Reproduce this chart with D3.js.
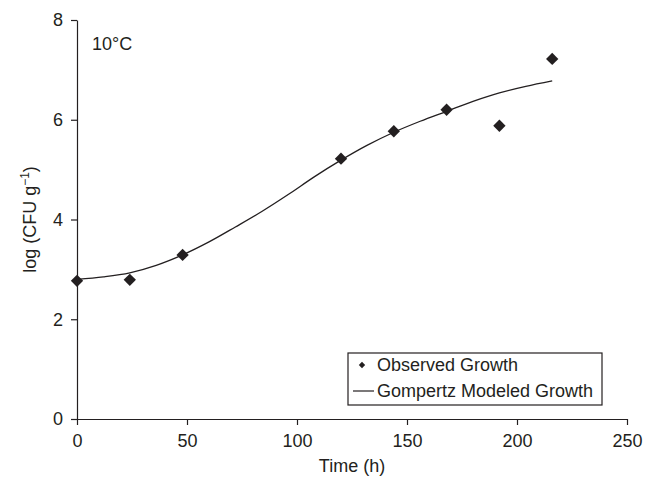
<!DOCTYPE html>
<html>
<head>
<meta charset="utf-8">
<script src="https://cdn.jsdelivr.net/npm/d3@7"></script>
<style>
  body { margin: 0; background: #fff; }
  text { font-family: "Liberation Sans", Arial, sans-serif; fill: #231f20; }
</style>
</head>
<body>
<script>
// Observed data (time in h, log CFU/g)
const obsTime = [0, 24, 48, 120, 144, 168, 192, 216];
const obsValue = [2.77, 2.79, 3.29, 5.22, 5.77, 6.20, 5.88, 7.22];

// Modeled curve
const modelTime = [0, 12, 24, 36, 48, 60, 72, 84, 96, 108, 120, 132, 144, 156, 168, 180, 192, 204, 216];
const modelValue = [2.80, 2.85, 2.93, 3.08, 3.29, 3.55, 3.85, 4.16, 4.50, 4.86, 5.19, 5.49, 5.75, 5.97, 6.17, 6.37, 6.54, 6.67, 6.78];

const xTicks = [0, 50, 100, 150, 200, 250];
const yTicks = [0, 2, 4, 6, 8];

const svgWidth = 654;
const svgHeight = 480;
const margin = { top: 20, right: 27, bottom: 61, left: 77 };
const chartWidth = svgWidth - margin.left - margin.right;
const chartHeight = svgHeight - margin.top - margin.bottom;
const ink = "#231f20";
const fontSize = "18px";

const svg = d3.select("body")
  .append("svg")
  .attr("width", svgWidth)
  .attr("height", svgHeight);

const chartGroup = svg.append("g")
  .attr("transform", `translate(${margin.left},${margin.top})`);

const xScale = d3.scaleLinear().domain([0, 250]).range([0, chartWidth]);
const yScale = d3.scaleLinear().domain([0, 8]).range([chartHeight, 0]);

// x axis
const xAxisG = chartGroup.append("g")
  .attr("transform", `translate(0,${chartHeight})`)
  .call(d3.axisBottom(xScale).tickValues(xTicks).tickSize(6).tickPadding(9).tickSizeOuter(0));

// y axis
const yAxisG = chartGroup.append("g")
  .call(d3.axisLeft(yScale).tickValues(yTicks).tickSize(6).tickPadding(8).tickSizeOuter(0));

[xAxisG, yAxisG].forEach(g => {
  g.selectAll("path, line").attr("stroke", ink).attr("stroke-width", 1.2);
  g.selectAll("text").style("font-size", fontSize).attr("fill", ink)
    .style("font-family", "'Liberation Sans', Arial, sans-serif");
});

// axis labels
chartGroup.append("text")
  .attr("x", xScale(125))
  .attr("y", chartHeight + 53)
  .attr("text-anchor", "middle")
  .style("font-size", fontSize)
  .text("Time (h)");

const yLabel = svg.append("text")
  .attr("transform", `translate(36,${margin.top + chartHeight / 2}) rotate(-90)`)
  .attr("text-anchor", "middle")
  .style("font-size", fontSize);
yLabel.append("tspan").text("log (CFU g");
yLabel.append("tspan").attr("dy", -7).style("font-size", "12px").text("\u22121");
yLabel.append("tspan").attr("dy", 7).text(")");

// temperature note
chartGroup.append("text")
  .attr("x", 15)
  .attr("y", 30)
  .style("font-size", fontSize)
  .text("10°C");

// model line
const modelData = modelTime.map((t, i) => ({ t: t, v: modelValue[i] }));
chartGroup.append("path")
  .datum(modelData)
  .attr("fill", "none")
  .attr("stroke", ink)
  .attr("stroke-width", 1.3)
  .attr("d", d3.line()
    .x(d => xScale(d.t))
    .y(d => yScale(d.v))
    .curve(d3.curveCatmullRom));

// observed points as diamonds
const diamond = d3.symbol().type(d3.symbolSquare).size(76);
chartGroup.selectAll(".obs")
  .data(obsTime.map((t, i) => ({ t: t, v: obsValue[i] })))
  .enter().append("path")
  .attr("class", "obs")
  .attr("d", diamond)
  .attr("fill", ink)
  .attr("transform", d => `translate(${xScale(d.t)},${yScale(d.v)}) rotate(45)`);

// legend
const legend = svg.append("g").attr("transform", "translate(348,353)");
legend.append("rect")
  .attr("width", 254)
  .attr("height", 52)
  .attr("fill", "#fff")
  .attr("stroke", ink)
  .attr("stroke-width", 1.2);
legend.append("path")
  .attr("d", d3.symbol().type(d3.symbolSquare).size(20))
  .attr("fill", ink)
  .attr("transform", "translate(14,12) rotate(45)");
legend.append("text")
  .attr("x", 29).attr("y", 18)
  .style("font-size", fontSize)
  .text("Observed Growth");
legend.append("line")
  .attr("x1", 5).attr("x2", 26)
  .attr("y1", 38).attr("y2", 38)
  .attr("stroke", ink).attr("stroke-width", 1.2);
legend.append("text")
  .attr("x", 29).attr("y", 44)
  .style("font-size", fontSize)
  .text("Gompertz Modeled Growth");
</script>
</body>
</html>
